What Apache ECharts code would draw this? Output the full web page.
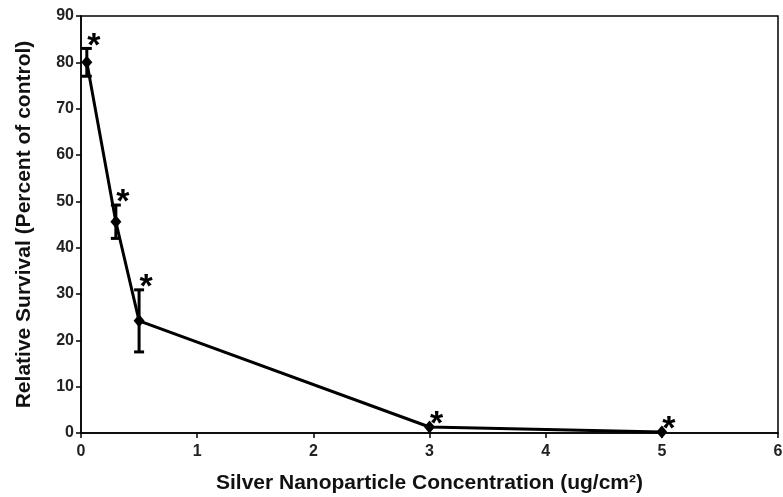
<!DOCTYPE html>
<html>
<head>
<meta charset="utf-8">
<script src="https://cdn.jsdelivr.net/npm/echarts@6/dist/echarts.min.js"></script>
<style>
html,body{margin:0;padding:0;background:#fff;}
#chart{width:783px;height:497px;}
</style>
</head>
<body>
<div id="chart"></div>
<script>
// concentration (ug/cm2) and survival (% of control)
var conc = [0.05, 0.3, 0.5, 3, 5];
var survival = [80, 45.6, 24.2, 1.3, 0.2];
var errs = [3, 3.6, 6.7, 0, 0];
var xTicks = [0, 1, 2, 3, 4, 5, 6];
var yTicks = [0, 10, 20, 30, 40, 50, 60, 70, 80, 90];

var pts = [];
var errData = [];
var starPts = [];
for (var i = 0; i < conc.length; i++) {
	pts.push([conc[i], survival[i]]);
	starPts.push([conc[i], survival[i] + errs[i]]);
	if (errs[i] > 0) {
		errData.push([conc[i], survival[i] - errs[i], survival[i] + errs[i]]);
	}
}

var myChart = echarts.init(document.getElementById('chart'));
var font = '"Liberation Sans", Arial, sans-serif';
var option = {
	animation: false,
	grid: {
		left: 81,
		right: 5,
		top: 16,
		bottom: 64,
		outerBoundsMode: 'none',
		containLabel: false,
		show: true,
		borderColor: '#000',
		borderWidth: 1.5
	},
	xAxis: {
		type: 'value',
		min: xTicks[0],
		max: xTicks[xTicks.length - 1],
		interval: 1,
		name: 'Silver Nanoparticle Concentration (ug/cm\u00b2)',
		nameLocation: 'middle',
		nameGap: 40,
		nameTextStyle: {fontFamily: font, fontSize: 21, fontWeight: 'bold', color: '#111'},
		axisLine: {lineStyle: {color: '#000', width: 1.5}},
		axisTick: {show: true, length: 5, lineStyle: {color: '#000', width: 1.5}},
		axisLabel: {fontFamily: font, fontSize: 16, fontWeight: 'bold', color: '#222', margin: 11},
		splitLine: {show: false}
	},
	yAxis: {
		type: 'value',
		min: yTicks[0],
		max: yTicks[yTicks.length - 1],
		interval: 10,
		name: 'Relative Survival (Percent of control)',
		nameLocation: 'middle',
		nameGap: 46,
		nameTextStyle: {fontFamily: font, fontSize: 21, fontWeight: 'bold', color: '#111'},
		axisLine: {show: true, lineStyle: {color: '#000', width: 1.5}},
		axisTick: {show: true, length: 5, lineStyle: {color: '#000', width: 1.5}},
		axisLabel: {fontFamily: font, fontSize: 16, fontWeight: 'bold', color: '#222', margin: 7},
		splitLine: {show: false}
	},
	series: [
		{
			type: 'custom',
			data: errData,
			z: 3,
			renderItem: function (params, api) {
				var x = api.value(0);
				var lo = api.coord([x, api.value(1)]);
				var hi = api.coord([x, api.value(2)]);
				var hw = 5;
				var st = {stroke: '#000', lineWidth: 3};
				return {
					type: 'group',
					children: [
						{type: 'line', shape: {x1: lo[0], y1: lo[1], x2: hi[0], y2: hi[1]}, style: st},
						{type: 'line', shape: {x1: lo[0] - hw, y1: lo[1], x2: lo[0] + hw, y2: lo[1]}, style: st},
						{type: 'line', shape: {x1: hi[0] - hw, y1: hi[1], x2: hi[0] + hw, y2: hi[1]}, style: st}
					]
				};
			}
		},
		{
			type: 'line',
			data: pts,
			z: 4,
			symbol: 'diamond',
			symbolSize: [11, 13],
			lineStyle: {color: '#000', width: 3},
			itemStyle: {color: '#000'}
		},
		{
			type: 'scatter',
			data: starPts,
			z: 5,
			symbolSize: 0,
			silent: true,
			itemStyle: {color: '#000', opacity: 1},
			label: {
				show: true,
				formatter: '*',
				position: 'inside',
				offset: [7, -2],
				fontFamily: font,
				fontSize: 34,
				fontWeight: 'bold',
				color: '#000',
				opacity: 1,
				textBorderWidth: 0
			}
		}
	]
};
myChart.setOption(option);
</script>
</body>
</html>
